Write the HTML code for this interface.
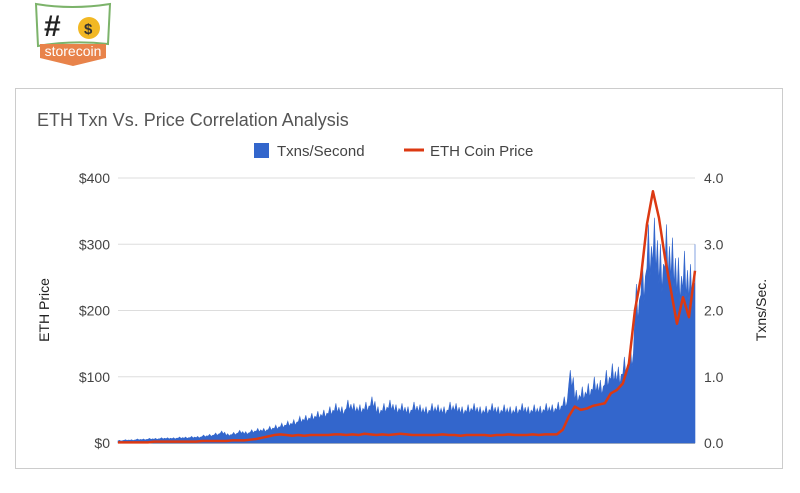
<!DOCTYPE html>
<html><head><meta charset="utf-8"><style>
body{margin:0;width:800px;height:488px;background:#fff;overflow:hidden;font-family:"Liberation Sans",sans-serif}
</style></head><body>
<svg width="800" height="488" xmlns="http://www.w3.org/2000/svg">
<g>
<path d="M36 4 Q72 10 110 4 L108 44 Q72 40 38 46 Z" fill="#fff" stroke="#7cb36a" stroke-width="2"/>
<text x="44" y="36" font-size="30" font-weight="bold" fill="#222" font-family="Liberation Sans,sans-serif">#</text>
<circle cx="89" cy="28" r="11" fill="#f2b824"/><text x="84" y="34" font-size="15" font-weight="bold" fill="#333">$</text>
<path d="M40 44 L106 44 L106 58 L73 66 L40 58 Z" fill="#e8834a"/>
<text x="73" y="56" font-size="14" fill="#fff" text-anchor="middle">storecoin</text>
</g>
<rect x="15.5" y="88.5" width="767" height="380" fill="#fff" stroke="#ccc"/>
<text x="37" y="126" font-size="18" fill="#555">ETH Txn Vs. Price Correlation Analysis</text>
<g>
<rect x="254" y="143" width="15" height="15" fill="#3366cc"/>
<text x="277" y="156" font-size="15" fill="#444">Txns/Second</text>
<line x1="404" y1="150" x2="424" y2="150" stroke="#dc3912" stroke-width="3"/>
<text x="430" y="156" font-size="15" fill="#444">ETH Coin Price</text>
</g>
<g id="grid"></g><g id="marks"></g><g id="axes"></g>
<text transform="translate(49,310) rotate(-90)" text-anchor="middle" font-size="14" fill="#222">ETH Price</text>
<text transform="translate(766,310) rotate(-90)" text-anchor="middle" font-size="14" fill="#222">Txns/Sec.</text>
</svg>
<script>
const leftTicks=[0,100,200,300,400];
const leftLabels=["$0","$100","$200","$300","$400"];
const rightLabels=["0.0","1.0","2.0","3.0","4.0"];
const txns=[0.04,0.05,0.05,0.06,0.06,0.07,0.07,0.08,0.08,0.08,0.09,0.09,0.10,0.10,
0.12,0.13,0.15,0.18,0.14,0.16,0.19,0.17,0.2,0.22,
0.22,0.25,0.27,0.3,0.33,0.35,0.4,0.42,0.45,0.48,
0.5,0.55,0.6,0.55,0.65,0.6,0.58,0.62,0.7,0.55,0.6,0.65,0.58,0.6,0.55,0.62,0.58,
0.55,0.6,0.58,0.55,0.62,0.6,0.55,0.58,0.6,0.55,0.56,0.6,0.55,0.58,0.55,0.56,0.6,0.55,0.58,0.56,0.6,0.58,0.62,
0.7,1.1,0.8,0.85,0.9,1.0,0.95,
1.1,1.2,1.15,1.3,1.5,
2.4,2.8,3.3,3.4,3.0,3.3,3.1,2.8,2.9,2.7,3.0];
const price=[1,1,1,1,1,1,2,2,2,2,2,2,2,2,3,3,3,3,3,4,4,4,5,6,8,
10,12,13,12,11,12,11,12,12,
12,12,13,13,12,13,12,14,13,12,13,12,13,14,13,12,12,
12,12,12,13,12,12,11,12,12,12,12,11,12,12,13,12,12,12,13,12,13,13,13,
20,40,55,50,52,56,58,60,75,80,90,120,200,250,330,380,340,280,230,180,220,190,260];
const X0=118,X1=695,Y0=443,Y1=178;
const yL=v=>Y0-(v/400)*(Y0-Y1);
const yR=v=>Y0-(v/4)*(Y0-Y1);
const xI=i=>X0+i*(X1-X0)/(txns.length-1);
const NS="http://www.w3.org/2000/svg";
function mk(t,a,p){const e=document.createElementNS(NS,t);for(const k in a)e.setAttribute(k,a[k]);p.appendChild(e);return e;}
const grid=document.getElementById('grid'),marks=document.getElementById('marks'),axes=document.getElementById('axes');
leftTicks.forEach((t,i)=>{
 const y=yL(t);
 const l=mk('line',{x1:X0,x2:X1,y1:y,y2:y,stroke:i==0?'#333':'#ddd','stroke-width':1},grid);
 
 
 const a=mk('text',{x:110,y:y+5,'text-anchor':'end','font-size':14,fill:'#444'},axes);a.textContent=leftLabels[i];
 
 
 const b=mk('text',{x:704,y:y+5,'font-size':14,fill:'#444'},axes);b.textContent=rightLabels[i];
 
 
});
let d=`M${X0},${Y0}`;
const w=(X1-X0)/(txns.length-1);
const cx=x=>Math.min(x,X1);
txns.forEach((v,i)=>{const x=xI(i);const lo=v*0.8;d+=`L${cx(x)},${yR(lo)}L${cx(x+w*0.25)},${yR(v)}L${cx(x+w*0.5)},${yR(lo*0.95)}L${cx(x+w*0.75)},${yR(v*0.9)}`;});
d+=`L${X1},${Y0}Z`;
const area=mk('path',{d:d,fill:'#3366cc',stroke:'#3366cc','stroke-width':0.6},marks);


const pl=mk('polyline',{points:price.map((v,i)=>xI(i)+','+yL(v)).join(' '),fill:'none',stroke:'#dc3912','stroke-width':2.5,'stroke-linejoin':'round'},marks);


</script>
</body></html>
